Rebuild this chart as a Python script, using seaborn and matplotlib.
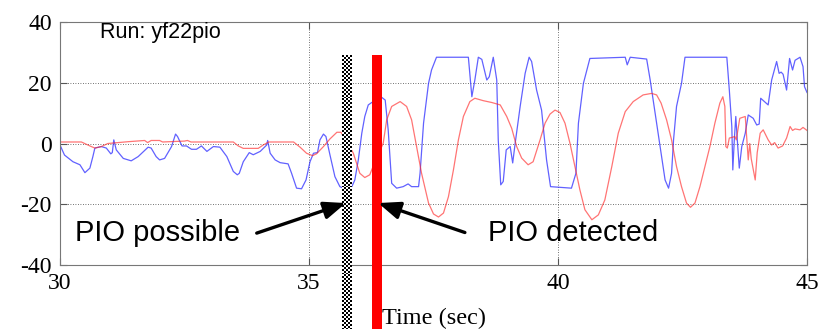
import numpy as np
import matplotlib
matplotlib.use("Agg")
import matplotlib.pyplot as plt
import seaborn as sns

# blue trace (time, value)
blue_t = [30.0, 30.09, 30.26, 30.4, 30.5, 30.6, 30.66, 30.7, 30.83, 30.93, 31.02, 31.05, 31.08, 31.13,
          31.27, 31.43, 31.57, 31.77, 31.83, 31.93, 32.0, 32.1, 32.24, 32.32, 32.36, 32.45, 32.54, 32.64,
          32.74, 32.84, 32.95, 33.08, 33.21, 33.35, 33.48, 33.56, 33.6, 33.68, 33.8, 33.88, 34.02, 34.15,
          34.17, 34.22, 34.32, 34.42, 34.58, 34.65, 34.75, 34.85, 34.94, 35.02, 35.09, 35.17, 35.22, 35.29,
          35.34, 35.42, 35.52, 35.62, 35.66, 35.86, 35.92, 35.99, 36.06, 36.12, 36.19, 36.26, 36.46, 36.53,
          36.59, 36.66, 36.76, 36.89, 36.99, 37.06, 37.2, 37.23, 37.3, 37.4, 37.46, 37.56, 38.2, 38.27,
          38.33, 38.4, 38.47, 38.57, 38.62, 38.7, 38.77, 38.8, 38.85, 38.9, 38.96, 39.04, 39.09, 39.14,
          39.24, 39.34, 39.42, 39.47, 39.57, 39.67, 39.77, 39.85, 40.27, 40.36, 40.41, 40.51, 40.64, 41.35,
          41.39, 41.45, 41.78, 41.85, 41.95, 42.05, 42.15, 42.22, 42.28, 42.32, 42.38, 42.48, 42.55, 43.39,
          43.44, 43.49, 43.51, 43.54, 43.57, 43.6, 43.64, 43.69, 43.76, 43.82, 43.92, 43.99, 44.04, 44.07,
          44.22, 44.29, 44.39, 44.44, 44.48, 44.52, 44.59, 44.65, 44.71, 44.76, 44.86, 44.92, 44.95, 45.0]
blue_v = [-0.5, -3.8, -6, -7, -9.6, -8.1, -4.3, -1.5, -1, -1.5, -3.4, -3, 1.2, -2.1,
          -4.9, -5.7, -4.3, -1.2, -1.5, -4.3, -5.4, -4.9, -1, 3.1, 2.3, -0.8, -0.8, -1.9,
          -1.9, -0.8, -2.6, -1, -1.2, -4.3, -9.2, -10.3, -9.8, -6, -3, -3.7, -2.6, -0.5,
          1.0, -3.2, -5.4, -6.3, -6.7, -9.8, -14.7, -14.9, -12, -6, -3.2, -3, 1.2, 3.1,
          2.3, -3.7, -10.9, -14.2, -14.5, -14.2, -12, -5.4, 3.4, 8.9, 12.7, 13.5, 15.2, 14.3,
          4.5, -13.1, -14.7, -14.2, -13.3, -14.2, -14.2, -9.8, 6.7, 19.8, 24.2, 28.4, 28.4, 15.4,
          20.9, 28.4, 27.7, 20.9, 22, 28.4, 20.9, 1.2, -13.6, -12.5, -2.1, -1, -6.4, 0.1,
          12.2, 23.1, 28.4, 27, 17.6, 11, -5.4, -14.2, -14.7, -9.8, 6.7, 19.8, 28, 28.4,
          25.9, 28.4, 27.8, 21, 10, -1, -12, -14.7, -9.8, 1.2, 12.2, 19.8, 28.4, 28.4,
          17.6, 5.6, -8.7, 1.2, 8.9, 1.2, -8.1, -1, 3.4, 9.4, 8.3, 6.1, 6.4, 14.9,
          12.7, 20.9, 27, 23.1, 23.5, 22.8, 17.6, 28, 24.2, 27.4, 28.4, 25.3, 18.7, 16.8]

# red trace
red_t = [30.0, 30.43, 30.6, 30.7, 30.83, 30.96, 31.37, 31.7, 31.76, 31.83, 32.0, 32.06, 32.5, 32.56,
         32.63, 33.48, 33.58, 33.68, 33.98, 34.08, 34.19, 34.69, 34.82, 34.95, 35.07, 35.15, 35.29, 35.42,
         35.56, 35.64, 35.75, 35.89, 36.02, 36.12, 36.22, 36.3, 36.49, 36.56, 36.66, 36.83, 36.96, 37.06,
         37.16, 37.26, 37.4, 37.5, 37.6, 37.7, 37.8, 37.9, 38.0, 38.1, 38.23, 38.33, 38.5, 38.67,
         38.84, 38.97, 39.07, 39.17, 39.27, 39.4, 39.5, 39.64, 39.74, 39.84, 39.94, 40.04, 40.14, 40.24,
         40.34, 40.44, 40.54, 40.68, 40.81, 40.94, 41.08, 41.21, 41.35, 41.51, 41.71, 41.88, 41.98, 42.07,
         42.18, 42.28, 42.38, 42.48, 42.58, 42.66, 42.75, 42.85, 42.95, 43.05, 43.15, 43.25, 43.31, 43.35,
         43.37, 43.4, 43.44, 43.49, 43.55, 43.58, 43.65, 43.76, 43.82, 43.85, 43.88, 43.96, 44.0, 44.06,
         44.12, 44.22, 44.29, 44.35, 44.42, 44.51, 44.59, 44.66, 44.71, 44.76, 44.86, 44.92, 45.0]
red_v = [0.5, 0.5, -0.8, -1.5, -1, 0, 0.6, 1, 0.3, 1, 1, 0.5, 0.8, 1,
         0.5, 0.5, -0.8, -1.6, -1.6, -0.5, 0.5, 0.5, -1.2, -3.2, -4, -3.4, -1, 1.5,
         3.7, 3.7, 1, -3.2, -9.8, -11.2, -10.3, -7, 0.1, 7.8, 12.2, 13.8, 12.2, 7.8,
         -1, -9.8, -19.6, -23.2, -24.2, -22.9, -17.5, -8.7, 1.2, 8.9, 13.8, 14.9, 14.1, 13.5,
         12.7, 8.9, 5, -1, -4.8, -7, -6, 1.2, 6.7, 9.7, 11, 10.2, 6.7, 0.1,
         -7.6, -15.3, -21.8, -25.1, -23.5, -18.6, -7.6, 3.4, 10.5, 13.8, 16, 16.5, 16, 13.3,
         7.8, 1.2, -7.6, -14.2, -19.6, -21, -19.6, -14.2, -7.6, -1, 6.7, 13.3, 15.4, 12.2,
         -1, -1.5, 1.8, 2, 2.3, 1.2, 8.3, 8.9, -5.4, 0, -5, -12, -3, 3.4,
         4.5, 1.2, -0.5, 0.3, -1.5, -0.8, 1.8, 5.6, 4.3, 4.8, 4.5, 5.3, 4.3]

# event markers
possible_t = 35.76
detected_t = 36.365
marker_top = 29

serif = ['Liberation Serif', 'DejaVu Serif']
sans = ['Liberation Sans', 'DejaVu Sans']
plt.rcParams['font.family'] = serif
plt.rcParams['axes.unicode_minus'] = False

fig = plt.figure(figsize=(8.3, 3.29), dpi=100)
ax = fig.add_axes([0.0723, 0.1945, 0.9, 0.7386])

sns.lineplot(x=blue_t, y=blue_v, color='#3a3aff', lw=0.9, alpha=0.8, sort=False, estimator=None, ax=ax)
sns.lineplot(x=red_t, y=red_v, color='#ff2a2a', lw=0.9, alpha=0.65, sort=False, estimator=None, ax=ax)

# checkered bar (PIO possible)
checks = np.indices((140, 5)).sum(axis=0) % 2
im = ax.imshow(checks, cmap='gray', interpolation='nearest', aspect='auto',
               extent=(possible_t - 0.1, possible_t + 0.1, -62, marker_top), zorder=4)
im.set_clip_on(False)

# solid red bar (PIO detected)
ax.bar([detected_t], [marker_top + 62], bottom=-62, width=0.21, color='#ff0000',
       clip_on=False, zorder=4)

ax.set_xlim(30, 45)
ax.set_ylim(-40, 40)
ax.set_xticks([30, 35, 40, 45])
ax.set_yticks([-40, -20, 0, 20, 40])
ax.set_xticklabels(['30', '35', '40', '45'], family=serif, fontsize=17)
ax.set_yticklabels(['-40', '-20', '0', '20', '40'], family=serif, fontsize=17)
ax.grid(True, color='#444444', ls=(0, (1, 2)), lw=0.6)
ax.tick_params(direction='in', top=True, right=True, length=5,
               color='#555555', pad=6)
for s in ax.spines.values():
    s.set_color('#777777')
ax.set_xlabel('Time (sec)', fontsize=17.5, family=serif, labelpad=10)
ax.set_ylabel('')

ax.text(30.8, 36.7, 'Run: yf22pio', fontsize=15.5, family=sans, va='center')
ax.text(30.3, -29.5, 'PIO possible', fontsize=21, family=sans, va='center')
ax.text(38.6, -29.5, 'PIO detected', fontsize=21, family=sans, va='center')

arrow = dict(arrowstyle='-|>,head_length=0.55,head_width=0.22', color='black', lw=2.4,
             mutation_scale=24, shrinkA=0, shrinkB=0)
ax.annotate('', xy=(35.74, -19.6), xytext=(33.95, -29.5), arrowprops=arrow, zorder=6)
ax.annotate('', xy=(36.39, -19.6), xytext=(38.13, -29.3), arrowprops=arrow, zorder=6)

fig.savefig('out.png', dpi=100)
